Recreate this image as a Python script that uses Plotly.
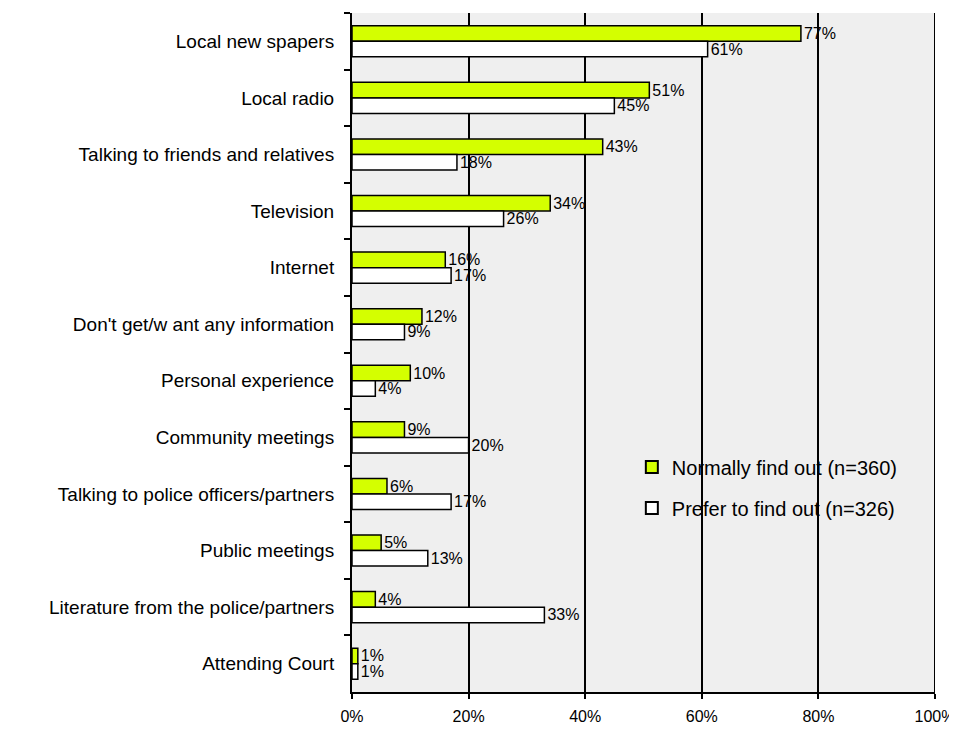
import plotly.graph_objects as go

categories = [
    "Local new spapers",
    "Local radio",
    "Talking to friends and relatives",
    "Television",
    "Internet",
    "Don't get/w ant any information",
    "Personal experience",
    "Community meetings",
    "Talking to police officers/partners",
    "Public meetings",
    "Literature from the police/partners",
    "Attending Court",
]
normally = [77, 51, 43, 34, 16, 12, 10, 9, 6, 5, 4, 1]
prefer = [61, 45, 18, 26, 17, 9, 4, 20, 17, 13, 33, 1]
x_ticks = [0, 20, 40, 60, 80, 100]
x_tick_labels = ["0%", "20%", "40%", "60%", "80%", "100%"]

font = "Liberation Sans, Arial, sans-serif"

fig = go.Figure()
fig.add_trace(go.Bar(
    y=categories, x=normally, orientation="h",
    name="Normally find out (n=360)", legendgroup="a",
    marker=dict(color="#d4ff00", line=dict(color="black", width=1.5)),
    text=[f"{v}%" for v in normally], textposition="outside",
    textfont=dict(size=16, color="black", family=font),
    constraintext="none",
    cliponaxis=False,
))
fig.add_trace(go.Bar(
    y=categories, x=prefer, orientation="h",
    name="Prefer to find out (n=326)", legendgroup="b",
    marker=dict(color="white", line=dict(color="black", width=1.5)),
    text=[f"{v}%" for v in prefer], textposition="outside",
    textfont=dict(size=16, color="black", family=font),
    constraintext="none",
    cliponaxis=False,
))

# page body has an 8px default margin, so the figure is shrunk to fit
fig.update_layout(
    template="none",
    width=949, height=721,
    margin=dict(l=344, r=22, t=5, b=37, pad=0),
    paper_bgcolor="white",
    plot_bgcolor="#efefef",
    barmode="group",
    bargap=0.45,
    bargroupgap=0,
    font=dict(family=font, color="black"),
    legend=dict(
        x=0.48, y=0.36, xanchor="left", yanchor="top",
        bgcolor="rgba(0,0,0,0)",
        font=dict(size=20, family=font, color="black"),
        tracegroupgap=12, itemsizing="constant",
    ),
    showlegend=True,
    xaxis=dict(
        automargin=False,
        range=[0, 100], tickvals=x_ticks, ticktext=x_tick_labels,
        showgrid=True, gridcolor="black", gridwidth=2,
        zeroline=False,
        showline=True, linecolor="black", linewidth=2,
        ticks="outside", ticklen=5, tickcolor="black", tickwidth=2,
        ticklabelstandoff=4,
        tickfont=dict(size=16, family=font),
    ),
    yaxis=dict(
        automargin=False,
        categoryorder="array", categoryarray=categories,
        autorange="reversed",
        showline=True, linecolor="black", linewidth=2,
        ticks="outside", tickson="boundaries", ticklen=6, tickcolor="black", tickwidth=1.5,
        ticklabelstandoff=12,
        tickfont=dict(size=19, family=font),
        showgrid=False, zeroline=False,
    ),
)
fig.add_shape(type="line", xref="x", yref="paper", x0=100, x1=100, y0=0, y1=1,
              line=dict(color="black", width=2))

fig.write_html("out.html")
